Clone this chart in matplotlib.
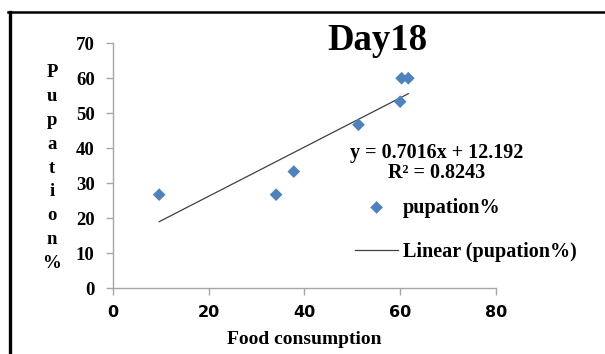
import numpy as np
import matplotlib
matplotlib.use("Agg")
import matplotlib.pyplot as plt
from matplotlib.lines import Line2D

# values
food = [9.7, 34.1, 37.8, 51.3, 60.0, 60.3, 61.7]
pupation = [26.7, 26.7, 33.3, 46.7, 53.3, 60.0, 60.0]
x_ticks = [0, 20, 40, 60, 80]
y_ticks = [0, 10, 20, 30, 40, 50, 60, 70]

serif = "Liberation Serif"
blue = "#4f81bd"
grey = "#a6a6a6"

fig = plt.figure(figsize=(6.05, 3.54), dpi=100)
ax = fig.add_axes([0.1863, 0.1864, 0.8198 - 0.1863, 0.8777 - 0.1864])

ax.scatter(food, pupation, marker="D", s=42, color=blue, edgecolors="none",
           zorder=3, label="pupation%")

slope, icpt = np.polyfit(food, pupation, 1)
xs = np.array([min(food), max(food)])
ax.plot(xs, slope * xs + icpt, color="#404040", lw=0.9, label="Linear (pupation%)")

ax.set_xlim(0, 80)
ax.set_ylim(0, 70)
ax.set_xticks(x_ticks)
ax.set_yticks(y_ticks)
for s in ["top", "right"]:
    ax.spines[s].set_visible(False)
for s in ["left", "bottom"]:
    ax.spines[s].set_color(grey)
    ax.spines[s].set_linewidth(1.0)
ax.tick_params(axis="both", direction="out", length=5, color=grey, width=1.0)
ax.tick_params(axis="x", pad=7)
ax.tick_params(axis="y", pad=8)
for lab in ax.get_xticklabels():
    lab.set_fontfamily("DejaVu Sans")
    lab.set_fontweight("bold")
    lab.set_fontsize(11.5)
for lab in ax.get_yticklabels():
    lab.set_fontfamily(serif)
    lab.set_fontweight("bold")
    lab.set_fontsize(13.5)

ax.set_xlabel("Food consumption", fontfamily=serif, fontweight="bold",
              fontsize=14, labelpad=8)

# stacked vertical y label
fig.text(52 / 605, 1 - 168 / 354, "\n".join("Pupation%"), fontfamily=serif,
         fontweight="bold", fontsize=13.5, ha="center", va="center",
         linespacing=1.52)

fig.text(377 / 605, 1 - 40 / 354, "Day18", fontfamily=serif, fontweight="bold",
         fontsize=26.5, ha="center", va="center")

fig.text(437 / 605, 1 - 153 / 354, "y = 0.7016x + 12.192", fontfamily=serif,
         fontweight="bold", fontsize=14.5, ha="center", va="center")
fig.text(437 / 605, 1 - 173 / 354, "R² = 0.8243", fontfamily=serif,
         fontweight="bold", fontsize=14.5, ha="center", va="center")

leg = ax.legend(loc="upper left", bbox_to_anchor=(0.585, 0.443), frameon=False,
                prop={"family": serif, "weight": "bold", "size": 14.5},
                handlelength=2.14, handletextpad=0.25, labelspacing=1.2,
                scatterpoints=1)

# outer frame (top and left edges visible)
fig.add_artist(Line2D([9.5 / 605, 9.5 / 605], [0, 1 - 12 / 354],
                      transform=fig.transFigure, color="black", lw=2.4))
fig.add_artist(Line2D([8 / 605, 1], [1 - 12 / 354, 1 - 12 / 354],
                      transform=fig.transFigure, color="black", lw=1.8))

fig.savefig("out.png", dpi=100)
